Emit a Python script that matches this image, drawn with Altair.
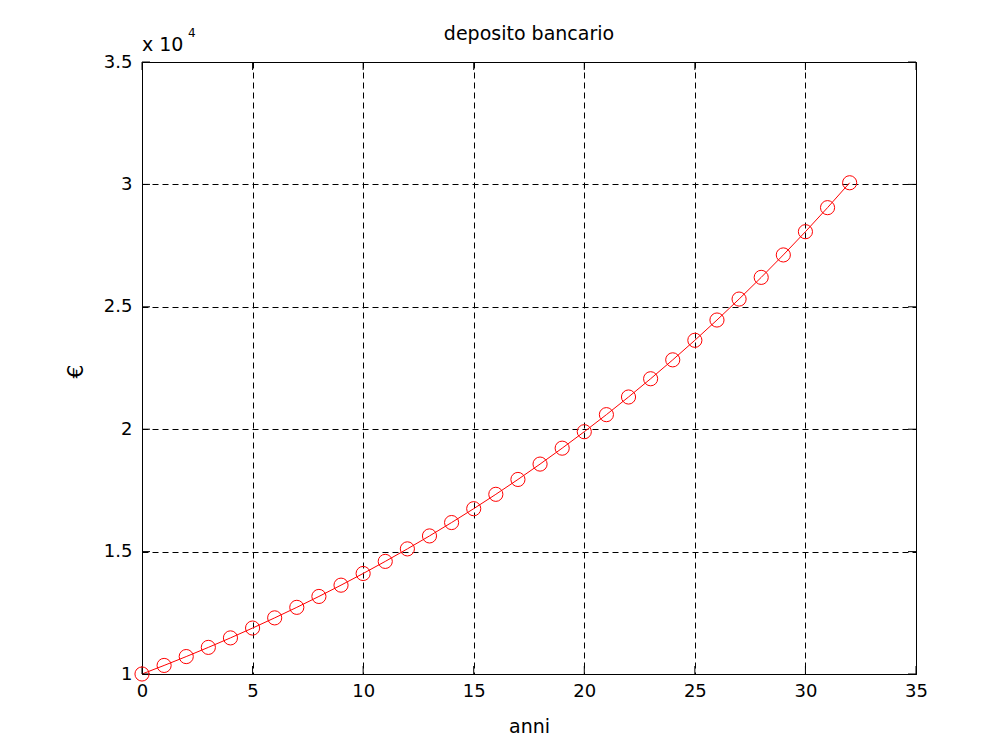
import altair as alt
import pandas as pd

years = list(range(0, 33))
euro = [10000, 10350, 10712, 11087, 11475, 11877, 12293, 12723, 13168, 13629,
        14106, 14600, 15111, 15640, 16187, 16753, 17340, 17947, 18575, 19225,
        19898, 20594, 21315, 22061, 22833, 23632, 24460, 25316, 26202, 27119,
        28068, 29050, 30067]
x_ticks = [0, 5, 10, 15, 20, 25, 30, 35]
y_ticks = [10000, 15000, 20000, 25000, 30000, 35000]

FONT = "DejaVu Sans"
W, H = 774, 612
XD = [0, 35]
YD = [10000, 35000]

df = pd.DataFrame({"anni": years, "euro": euro})
xt = pd.DataFrame({"anni": x_ticks})
yt = pd.DataFrame({"euro": y_ticks})

xs = alt.Scale(domain=XD, nice=False, zero=False)
ys = alt.Scale(domain=YD, nice=False, zero=False)

xaxis = alt.Axis(
    values=x_ticks, grid=True, gridDash=[6, 4], gridColor="#000000", gridOpacity=1,
    ticks=False, domain=False, labelPadding=8, labelFontSize=18, labelFont=FONT,
    labelColor="black", labelFlush=False, labelOverlap=False,
    title="anni", titleFont=FONT, titleFontSize=19,
    titleFontWeight="normal", titleColor="black", titleY=58, titleBaseline="alphabetic")
yaxis = alt.Axis(
    values=y_ticks, grid=True, gridDash=[6, 4], gridColor="#000000", gridOpacity=1,
    ticks=False, domain=False, labelPadding=10, labelFontSize=18, labelFont=FONT,
    labelColor="black", labelExpr="datum.value / 10000", labelFlush=False,
    labelOverlap=False,
    title="€", titleFont=FONT, titleFontSize=22, titleFontWeight="normal",
    titleColor="black", titleAngle=270, titleX=-60, titleY=H / 2 + 3,
    titleBaseline="alphabetic")


def X(f):
    return alt.X(f, scale=xs, axis=xaxis, title="anni")


def Y(f):
    return alt.Y(f, scale=ys, axis=yaxis, title="€")


base = alt.Chart(df)
line = base.mark_line(color="red", strokeWidth=1).encode(x=X("anni:Q"), y=Y("euro:Q"))
pts = base.mark_point(shape="circle", size=200, filled=False, color="red",
                      strokeWidth=1, opacity=1).encode(x=X("anni:Q"), y=Y("euro:Q"))

tb = alt.Chart(xt).mark_rule(color="black", strokeWidth=1).encode(
    x=X("anni:Q"), y=alt.value(H), y2=alt.value(H - 8))
tt = alt.Chart(xt).mark_rule(color="black", strokeWidth=1).encode(
    x=X("anni:Q"), y=alt.value(0), y2=alt.value(8))
tl = alt.Chart(yt).mark_rule(color="black", strokeWidth=1).encode(
    y=Y("euro:Q"), x=alt.value(0), x2=alt.value(8))
tr = alt.Chart(yt).mark_rule(color="black", strokeWidth=1).encode(
    y=Y("euro:Q"), x=alt.value(W), x2=alt.value(W - 8))

title = alt.Chart(pd.DataFrame({"s": ["deposito bancario"]})).mark_text(
    align="center", baseline="alphabetic", font=FONT, fontSize=19, color="black").encode(
    text="s:N", x=alt.value(W / 2 + 0), y=alt.value(-22))
exp_a = alt.Chart(pd.DataFrame({"s": ["x 10"]})).mark_text(
    align="left", baseline="alphabetic", font=FONT, fontSize=19, color="black").encode(
    text="s:N", x=alt.value(0), y=alt.value(-11))
exp_b = alt.Chart(pd.DataFrame({"s": ["4"]})).mark_text(
    align="left", baseline="alphabetic", font=FONT, fontSize=12, color="black").encode(
    text="s:N", x=alt.value(46), y=alt.value(-25))

chart = alt.layer(line, tb, tt, tl, tr, pts, title, exp_a, exp_b).properties(
    width=W, height=H,
    autosize=alt.AutoSizeParams(type="none"),
    padding={"left": 134, "top": 54, "right": 40, "bottom": 70},
).configure(background="white").configure_view(stroke="black", strokeWidth=1, fill="white")

chart.save("out.html", embed_options={"renderer": "svg", "actions": False})
